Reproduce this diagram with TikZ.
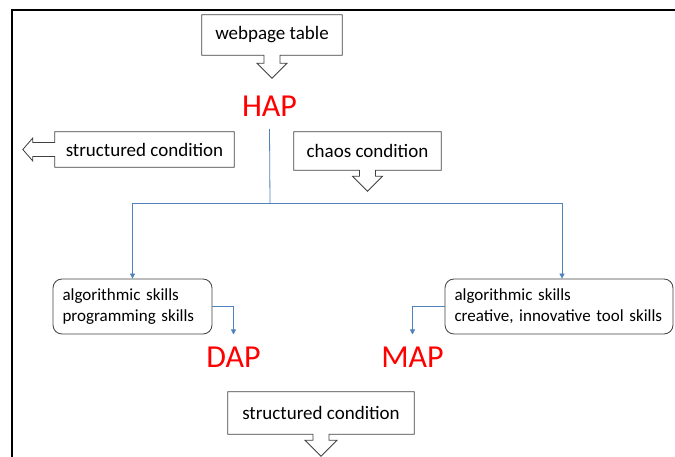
\documentclass[tikz,border=0pt]{standalone}
\usepackage{fontspec}
\setmainfont{Carlito}
\usetikzlibrary{calc,arrows.meta}
\definecolor{linkblue}{RGB}{79,129,189}
\definecolor{edge}{RGB}{64,64,64}
% box with a hollow arrow below: node, shaft half width, shaft length, head half width, head length
\newcommand\downcallout[5]{\draw[edge,line width=0.8pt,line join=miter] (#1.south west) -- (#1.north west) -- (#1.north east) -- (#1.south east) -- ($(#1.south)+(#2,0)$) -- ++(0,#3) -- ++(#4-#2,0) -- ++(-#4,#5) -- ++(-#4,-#5) -- ++(#4-#2,0) -- ++(0,-#3) -- cycle;}
% same, arrow to the left
\newcommand\leftcallout[5]{\draw[edge,line width=0.8pt,line join=miter] (#1.north west) -- (#1.north east) -- (#1.south east) -- (#1.south west) -- ($(#1.west)+(0,#2)$) -- ++(-#3,0) -- ++(0,#4-#2) -- ++(-#5,-#4) -- ++(#5,-#4) -- ++(0,#4-#2) -- ++(#3,0) -- cycle;}
\begin{document}
\begin{tikzpicture}[x=1pt, y=-1pt, line cap=butt, >={Triangle[width=5pt,length=5pt]},
	cond/.style={inner sep=0pt, font=\fontsize{19}{21}\selectfont},
	skills/.style={draw=edge, line width=0.8pt, rounded corners=9pt, inner xsep=9.5pt, minimum height=55pt, align=left, font=\fontsize{17}{21}\selectfont},
	lab/.style={text=red, inner sep=0pt, outer sep=12pt, anchor=base, font=\fontsize{32}{32}\selectfont},
	link/.style={linkblue, line width=0.8pt}]
	\useasboundingbox (0,0) rectangle (675,457);
	\draw[line width=2pt] (12,457) -- (12,10) -- (675,10);
	% condition boxes
	\node[cond, minimum width=140pt, minimum height=40pt] (web) at (272,35) {webpage table};
	\node[cond, minimum width=179pt, minimum height=35pt] (struct) at (144.5,149.5) {structured condition};
	\node[cond, minimum width=147pt, minimum height=38pt] (chaos) at (367.5,151) {chaos condition};
	\node[cond, minimum width=186pt, minimum height=42pt] (structb) at (321,413) {structured condition};
	\downcallout{web}{8}{8}{15}{15}
	\leftcallout{struct}{7}{22}{11.5}{10}
	\downcallout{chaos}{8}{6}{15}{15}
	\downcallout{structb}{8}{6}{16}{16}
	% levels
	\node[lab] (hap) at (269.5,117) {HAP};
	\node[lab] (dap) at (233.5,367) {DAP};
	\node[lab] (map) at (412.5,367) {MAP};
	\node[skills, text width=140pt] (dskills) at (132.5,306.5) {algorithmic skills\\programming skills};
	\node[skills, text width=209pt] (mskills) at (559,306.5) {algorithmic skills\\creative, innovative tool skills};
	% connectors
	\coordinate (split) at (270,203);
	\draw[link] (hap.south) -- (split);
	\draw[link,->] (split) -| (dskills.north);
	\draw[link,->] (split) -| ([xshift=3pt]mskills.north);
	\draw[link,->] (dskills.east) -| (dap.north);
	\draw[link,->] (mskills.west) -| (map.north);
\end{tikzpicture}
\end{document}
